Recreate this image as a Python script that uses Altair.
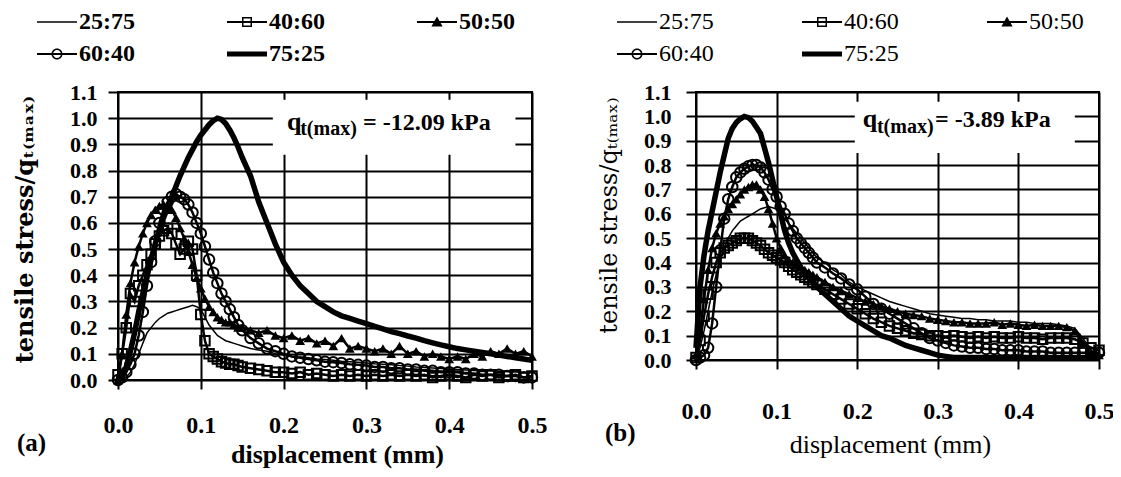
import altair as alt
import pandas as pd

SERIF = "Liberation Serif, Times New Roman, serif"
SERIES = ["25:75", "40:60", "50:50", "60:40", "75:25"]

X_MM = [0.000, 0.005, 0.010, 0.015, 0.020, 0.025, 0.030, 0.035, 0.040, 0.045,
        0.050, 0.055, 0.060, 0.065, 0.070, 0.075, 0.080, 0.085, 0.090, 0.095,
        0.100, 0.105, 0.110, 0.115, 0.120, 0.125, 0.130, 0.135, 0.140, 0.145,
        0.150, 0.16, 0.17, 0.18, 0.19, 0.20, 0.21, 0.22, 0.23, 0.24,
        0.25, 0.26, 0.27, 0.28, 0.29, 0.30, 0.31, 0.32, 0.33, 0.34,
        0.35, 0.36, 0.37, 0.38, 0.39, 0.40, 0.41, 0.42, 0.43, 0.44,
        0.45, 0.46, 0.47, 0.48, 0.49, 0.50]

# ---- panel (a) ----
A_25_75 = [0.00, 0.00, 0.01, 0.03, 0.06, 0.10, 0.14, 0.18, 0.20, 0.22,
           0.235, 0.245, 0.255, 0.26, 0.265, 0.27, 0.275, 0.28, 0.285, 0.28,
           0.27, 0.24, 0.21, 0.19, 0.17, 0.16, 0.15, 0.145, 0.14, 0.135,
           0.13, 0.12, 0.115, 0.11, 0.10, 0.095, 0.09, 0.088, 0.085, 0.08,
           0.078, 0.075, 0.072, 0.07, 0.068, 0.065, 0.062, 0.06, 0.058, 0.055,
           0.053, 0.05, 0.048, 0.046, 0.044, 0.042, 0.04, 0.038, 0.036, 0.035,
           0.034, 0.033, 0.032, 0.031, 0.03, 0.03]
A_40_60 = [0.02, 0.10, 0.20, 0.33, 0.30, 0.36, 0.40, 0.44, 0.48, 0.52,
           0.55, 0.57, 0.58, 0.56, 0.52, 0.48, 0.50, 0.53, 0.50, 0.40,
           0.25, 0.15, 0.10, 0.09, 0.08, 0.07, 0.065, 0.06, 0.06, 0.055,
           0.05, 0.045, 0.04, 0.035, 0.03, 0.03, 0.025, 0.03, 0.02, 0.025,
           0.02, 0.015, 0.02, 0.015, 0.02, 0.015, 0.02, 0.015, 0.02, 0.015,
           0.02, 0.015, 0.02, 0.01, 0.015, 0.02, 0.015, 0.01, 0.02, 0.015,
           0.02, 0.01, 0.015, 0.02, 0.01, 0.015]
A_50_50 = [0.00, 0.10, 0.25, 0.37, 0.45, 0.51, 0.56, 0.60, 0.63, 0.65,
           0.665, 0.67, 0.665, 0.65, 0.62, 0.58, 0.54, 0.49, 0.44, 0.39,
           0.35, 0.31, 0.28, 0.26, 0.24, 0.23, 0.22, 0.22, 0.21, 0.20,
           0.20, 0.19, 0.18, 0.19, 0.17, 0.16, 0.17, 0.15, 0.16, 0.14,
           0.15, 0.13, 0.16, 0.12, 0.13, 0.12, 0.11, 0.12, 0.10, 0.13,
           0.10, 0.11, 0.09, 0.10, 0.09, 0.08, 0.09, 0.08, 0.10, 0.09,
           0.11, 0.10, 0.12, 0.10, 0.11, 0.09]
A_60_40 = [0.00, 0.01, 0.03, 0.06, 0.10, 0.17, 0.26, 0.36, 0.45, 0.53,
           0.60, 0.65, 0.68, 0.70, 0.71, 0.70, 0.69, 0.67, 0.64, 0.60,
           0.56, 0.51, 0.46, 0.41, 0.37, 0.33, 0.30, 0.27, 0.24, 0.21,
           0.19, 0.16, 0.14, 0.12, 0.11, 0.10, 0.09, 0.085, 0.08, 0.075,
           0.07, 0.068, 0.065, 0.06, 0.058, 0.055, 0.05, 0.05, 0.045, 0.045,
           0.04, 0.04, 0.035, 0.035, 0.03, 0.03, 0.03, 0.025, 0.025, 0.02,
           0.02, 0.02, 0.015, 0.015, 0.01, 0.01]
A_75_25 = [0.00, 0.01, 0.05, 0.11, 0.18, 0.26, 0.33, 0.40, 0.46, 0.52,
           0.57, 0.62, 0.66, 0.70, 0.74, 0.78, 0.815, 0.85, 0.88, 0.91,
           0.935, 0.955, 0.975, 0.99, 1.00, 0.995, 0.98, 0.955, 0.925, 0.89,
           0.85, 0.78, 0.68, 0.60, 0.52, 0.45, 0.40, 0.36, 0.33, 0.30,
           0.28, 0.26, 0.245, 0.235, 0.225, 0.215, 0.205, 0.195, 0.185, 0.177,
           0.168, 0.16, 0.15, 0.142, 0.134, 0.127, 0.12, 0.115, 0.11, 0.105,
           0.10, 0.095, 0.09, 0.085, 0.08, 0.075]

# ---- panel (b) ----
B_25_75 = [0.00, 0.05, 0.12, 0.20, 0.28, 0.35, 0.41, 0.46, 0.50, 0.53,
           0.55, 0.57, 0.58, 0.59, 0.60, 0.61, 0.62, 0.625, 0.63, 0.625,
           0.62, 0.60, 0.58, 0.56, 0.54, 0.52, 0.50, 0.48, 0.46, 0.44,
           0.42, 0.40, 0.37, 0.35, 0.32, 0.30, 0.285, 0.27, 0.255, 0.24,
           0.23, 0.22, 0.21, 0.20, 0.19, 0.185, 0.18, 0.175, 0.17, 0.17,
           0.165, 0.165, 0.16, 0.16, 0.16, 0.155, 0.155, 0.15, 0.15, 0.15,
           0.145, 0.14, 0.13, 0.09, 0.04, 0.02]
B_40_60 = [0.01, 0.08, 0.18, 0.27, 0.34, 0.40, 0.44, 0.46, 0.47, 0.48,
           0.49, 0.50, 0.50, 0.50, 0.49, 0.48, 0.47, 0.455, 0.44, 0.43,
           0.42, 0.41, 0.40, 0.385, 0.37, 0.36, 0.35, 0.34, 0.33, 0.32,
           0.31, 0.29, 0.27, 0.25, 0.23, 0.21, 0.19, 0.17, 0.155, 0.14,
           0.13, 0.12, 0.11, 0.105, 0.10, 0.10, 0.095, 0.10, 0.095, 0.09,
           0.095, 0.09, 0.095, 0.09, 0.09, 0.095, 0.09, 0.09, 0.085, 0.09,
           0.09, 0.09, 0.085, 0.07, 0.05, 0.04]
B_50_50 = [0.02, 0.12, 0.25, 0.37, 0.46, 0.52, 0.56, 0.59, 0.62, 0.64,
           0.66, 0.68, 0.70, 0.71, 0.72, 0.72, 0.70, 0.67, 0.62, 0.56,
           0.50, 0.46, 0.43, 0.41, 0.40, 0.39, 0.38, 0.37, 0.36, 0.35,
           0.34, 0.32, 0.30, 0.285, 0.27, 0.255, 0.24, 0.23, 0.22, 0.21,
           0.20, 0.19, 0.185, 0.18, 0.17, 0.165, 0.16, 0.155, 0.155, 0.15,
           0.15, 0.15, 0.155, 0.145, 0.15, 0.145, 0.14, 0.145, 0.14, 0.14,
           0.14, 0.135, 0.12, 0.07, 0.03, 0.02]
B_60_40 = [0.00, 0.01, 0.02, 0.05, 0.15, 0.30, 0.45, 0.58, 0.66, 0.71,
           0.75, 0.77, 0.785, 0.795, 0.80, 0.80, 0.79, 0.77, 0.74, 0.70,
           0.67, 0.63, 0.60, 0.56, 0.53, 0.50, 0.48, 0.46, 0.44, 0.42,
           0.40, 0.38, 0.355, 0.335, 0.31, 0.29, 0.26, 0.23, 0.21, 0.19,
           0.17, 0.15, 0.13, 0.11, 0.09, 0.08, 0.07, 0.06, 0.055, 0.05,
           0.05, 0.045, 0.045, 0.04, 0.04, 0.04, 0.035, 0.035, 0.035, 0.03,
           0.03, 0.03, 0.03, 0.03, 0.03, 0.03]
B_75_25 = [0.05, 0.30, 0.43, 0.53, 0.61, 0.69, 0.77, 0.84, 0.91, 0.95,
           0.975, 0.99, 1.00, 0.995, 0.98, 0.955, 0.93, 0.87, 0.81, 0.74,
           0.67, 0.60, 0.53, 0.48, 0.44, 0.41, 0.38, 0.36, 0.34, 0.32,
           0.30, 0.27, 0.24, 0.21, 0.18, 0.16, 0.14, 0.12, 0.10, 0.09,
           0.075, 0.06, 0.05, 0.04, 0.03, 0.02, 0.015, 0.01, 0.01, 0.01,
           0.01, 0.01, 0.01, 0.01, 0.01, 0.01, 0.01, 0.01, 0.01, 0.01,
           0.01, 0.01, 0.01, 0.01, 0.01, 0.01]

X_TICKS = [0.0, 0.1, 0.2, 0.3, 0.4, 0.5]
Y_TICKS = [0.0, 0.1, 0.2, 0.3, 0.4, 0.5, 0.6, 0.7, 0.8, 0.9, 1.0, 1.1]

# annotation boxes / texts (data units)
BOX_A = {"x1": [0.187], "x2": [0.48], "y1": [0.86], "y2": [1.07]}
BOX_B = {"x1": [0.197], "x2": [0.47], "y1": [0.85], "y2": [1.06]}
ANN_TEXT_A = ["q", "t(max)", "= -12.09 kPa"]
ANN_TEXT_B = ["q", "t(max)", "= -3.89 kPa"]
ANN_X_A = [0.204, 0.220, 0.296]
ANN_X_B = [0.207, 0.2245, 0.2965]
ANN_Y_A = [0.955, 0.935, 0.955]
ANN_Y_B = [0.957, 0.931, 0.957]
ANN_SIZE = [26, 20, 24]

# legend symbols (line + marker) as custom paths
LEGEND_PATHS = [
    "M-1,-0.04H1V0.04H-1Z",
    "M-1,-0.05H1V0.05H-1Z M-0.25,-0.25H0.25V0.25H-0.25Z M-0.175,-0.175V0.175H0.175V-0.175Z",
    "M-1,-0.05H1V0.05H-1Z M0,-0.28L0.28,0.22L-0.28,0.22Z",
    "M-1,-0.05H1V0.05H-1Z M-0.275,0A0.275,0.275 0 1,1 0.275,0A0.275,0.275 0 1,1 -0.275,0Z M-0.2,0A0.2,0.2 0 1,0 0.2,0A0.2,0.2 0 1,0 -0.2,0Z",
    "M-1,-0.13H1V0.13H-1Z",
]


def make_panel(vals, box, ann_text, ann_x, ann_y, caption, cfg):
    rows = []
    for s, ys in zip(SERIES, vals):
        for x, y in zip(X_MM, ys):
            rows.append({"series": s, "x": x, "y": y})
    df = pd.DataFrame(rows)

    xaxis = alt.Axis(values=X_TICKS, format=".1f", title="displacement (mm)",
                     grid=True, gridColor="black", gridWidth=2, gridOpacity=1,
                     domain=False, tickColor="black", tickWidth=2, tickSize=9,
                     labelFont=SERIF, labelFontSize=24, labelFontWeight="bold",
                     labelColor="black", labelPadding=cfg["xlabpad"], labelFlush=False,
                     titleFont=SERIF, titleFontSize=cfg["xtitlesize"],
                     titleFontWeight=cfg["xtitleweight"], titleColor="black",
                     titleX=cfg["xtitlex"], titleY=cfg["xtitley"],
                     titleAlign="center", titleBaseline="alphabetic")
    yaxis = alt.Axis(values=Y_TICKS, format=".1f", title="tensile stress/qₜ₍ₘₐₓ₎",
                     grid=True, gridColor="black", gridWidth=2, gridOpacity=1,
                     domain=False, tickColor="black", tickWidth=2, tickSize=10,
                     labelFont=SERIF, labelFontSize=22, labelFontWeight="bold",
                     labelColor="black", labelPadding=cfg["ylabpad"], labelFlush=False,
                     titleFont=cfg["ytitlefont"], titleFontSize=cfg["ytitlesize"],
                     titleFontWeight=cfg["ytitleweight"], titleColor="black",
                     titleAngle=270, titleX=cfg["ytitlex"], titleY=cfg["ytitley"],
                     titleAlign="center", titleBaseline="middle")
    xs = alt.Scale(domain=[0, 0.5], nice=False, zero=False)
    ys_ = alt.Scale(domain=[0, 1.1], nice=False, zero=False)
    X = alt.X("x:Q", scale=xs, axis=xaxis)
    Y = alt.Y("y:Q", scale=ys_, axis=yaxis)

    layers = []
    layers.append(alt.Chart(pd.DataFrame(box)).mark_rect(fill="white", strokeWidth=0).encode(
        x=alt.X("x1:Q", scale=xs, axis=xaxis), x2="x2:Q",
        y=alt.Y("y1:Q", scale=ys_, axis=yaxis), y2="y2:Q"))

    def sub(s):
        return df[df["series"] == s]

    layers.append(alt.Chart(sub("25:75")).mark_line(color="black", strokeWidth=1.5).encode(x=X, y=Y))
    layers.append(alt.Chart(sub("40:60")).mark_line(color="black", strokeWidth=2.5).encode(x=X, y=Y))
    layers.append(alt.Chart(sub("40:60")).mark_point(shape="square", filled=False, size=90,
                                                     strokeWidth=2, color="black", opacity=1).encode(x=X, y=Y))
    layers.append(alt.Chart(sub("50:50")).mark_line(color="black", strokeWidth=2.5).encode(x=X, y=Y))
    layers.append(alt.Chart(sub("50:50")).mark_point(shape="triangle-up", filled=True, size=95,
                                                     color="black", opacity=1).encode(x=X, y=Y))
    layers.append(alt.Chart(sub("60:40")).mark_line(color="black", strokeWidth=2.5).encode(x=X, y=Y))
    layers.append(alt.Chart(sub("60:40")).mark_point(shape="circle", filled=False, size=110,
                                                     strokeWidth=2, color="black", opacity=1).encode(x=X, y=Y))
    layers.append(alt.Chart(sub("75:25")).mark_line(color="black", strokeWidth=5.5).encode(x=X, y=Y))

    ann = pd.DataFrame({"x": ann_x, "y": ann_y, "t": ann_text, "s": ANN_SIZE})
    layers.append(alt.Chart(ann).mark_text(align="left", baseline="alphabetic", font=SERIF,
                                           fontWeight="bold", color="black").encode(
        x=X, y=Y, text="t:N", size=alt.Size("s:Q", scale=None, legend=None)))

    leg = pd.DataFrame({"series": SERIES, "x": [0.0] * 5, "y": [0.0] * 5})
    layers.append(alt.Chart(leg).mark_point(filled=True, color="black", opacity=0).encode(
        x=X, y=Y,
        shape=alt.Shape("series:N", scale=alt.Scale(domain=SERIES, range=LEGEND_PATHS),
                        legend=alt.Legend(title=None, orient="none", legendX=cfg["legx"],
                                          legendY=cfg["legy"], columns=3, direction="horizontal",
                                          columnPadding=cfg["colpad"], rowPadding=-2,
                                          padding=0, symbolSize=1600, symbolStrokeWidth=0,
                                          symbolFillColor="black", symbolOpacity=1,
                                          labelFont=SERIF, labelFontSize=24,
                                          labelFontWeight=cfg["legweight"], labelColor="black",
                                          labelOffset=2, labelLimit=0))))

    cap = pd.DataFrame({"t": [caption]})
    layers.append(alt.Chart(cap).mark_text(align="left", baseline="alphabetic", font=SERIF,
                                           fontSize=25, fontWeight="bold", color="black").encode(
        text="t:N", x=alt.value(cfg["capx"]), y=alt.value(cfg["capy"])))

    return alt.layer(*layers).properties(width=cfg["w"], height=cfg["h"])


cfg_a = dict(w=414, h=288, xlabpad=24, xtitlesize=26, xtitleweight="bold", xtitlex=219, xtitley=82,
             ylabpad=11, ytitlefont="DejaVu Serif", ytitlesize=24, ytitleweight="bold",
             ytitlex=-93, ytitley=137, legx=-81, legy=-90, colpad=92, legweight="bold",
             capx=-101, capy=359)
cfg_b = dict(w=403, h=268, xlabpad=30, xtitlesize=26, xtitleweight="normal", xtitlex=194, xtitley=92,
             ylabpad=15, ytitlefont="DejaVu Serif", ytitlesize=24, ytitleweight="normal",
             ytitlex=-87, ytitley=123, legx=-79, legy=-90, colpad=88, legweight="normal",
             capx=-91, capy=349)

pa = make_panel([A_25_75, A_40_60, A_50_50, A_60_40, A_75_25], BOX_A, ANN_TEXT_A, ANN_X_A, ANN_Y_A, "(a)", cfg_a)
pb = make_panel([B_25_75, B_40_60, B_50_50, B_60_40, B_75_25], BOX_B, ANN_TEXT_B, ANN_X_B, ANN_Y_B, "(b)", cfg_b)

chart = alt.hconcat(pa, pb, spacing=164, bounds="flush").resolve_scale(
    x="independent", y="independent", shape="independent", size="independent"
).resolve_legend(shape="independent").properties(
    autosize=alt.AutoSizeParams(type="none"),
    padding={"left": 110, "top": 84, "right": 995, "bottom": 377},
    background="white",
).configure_view(stroke="black", strokeWidth=2)

chart.save("out.html", embed_options={"renderer": "svg", "actions": False})
